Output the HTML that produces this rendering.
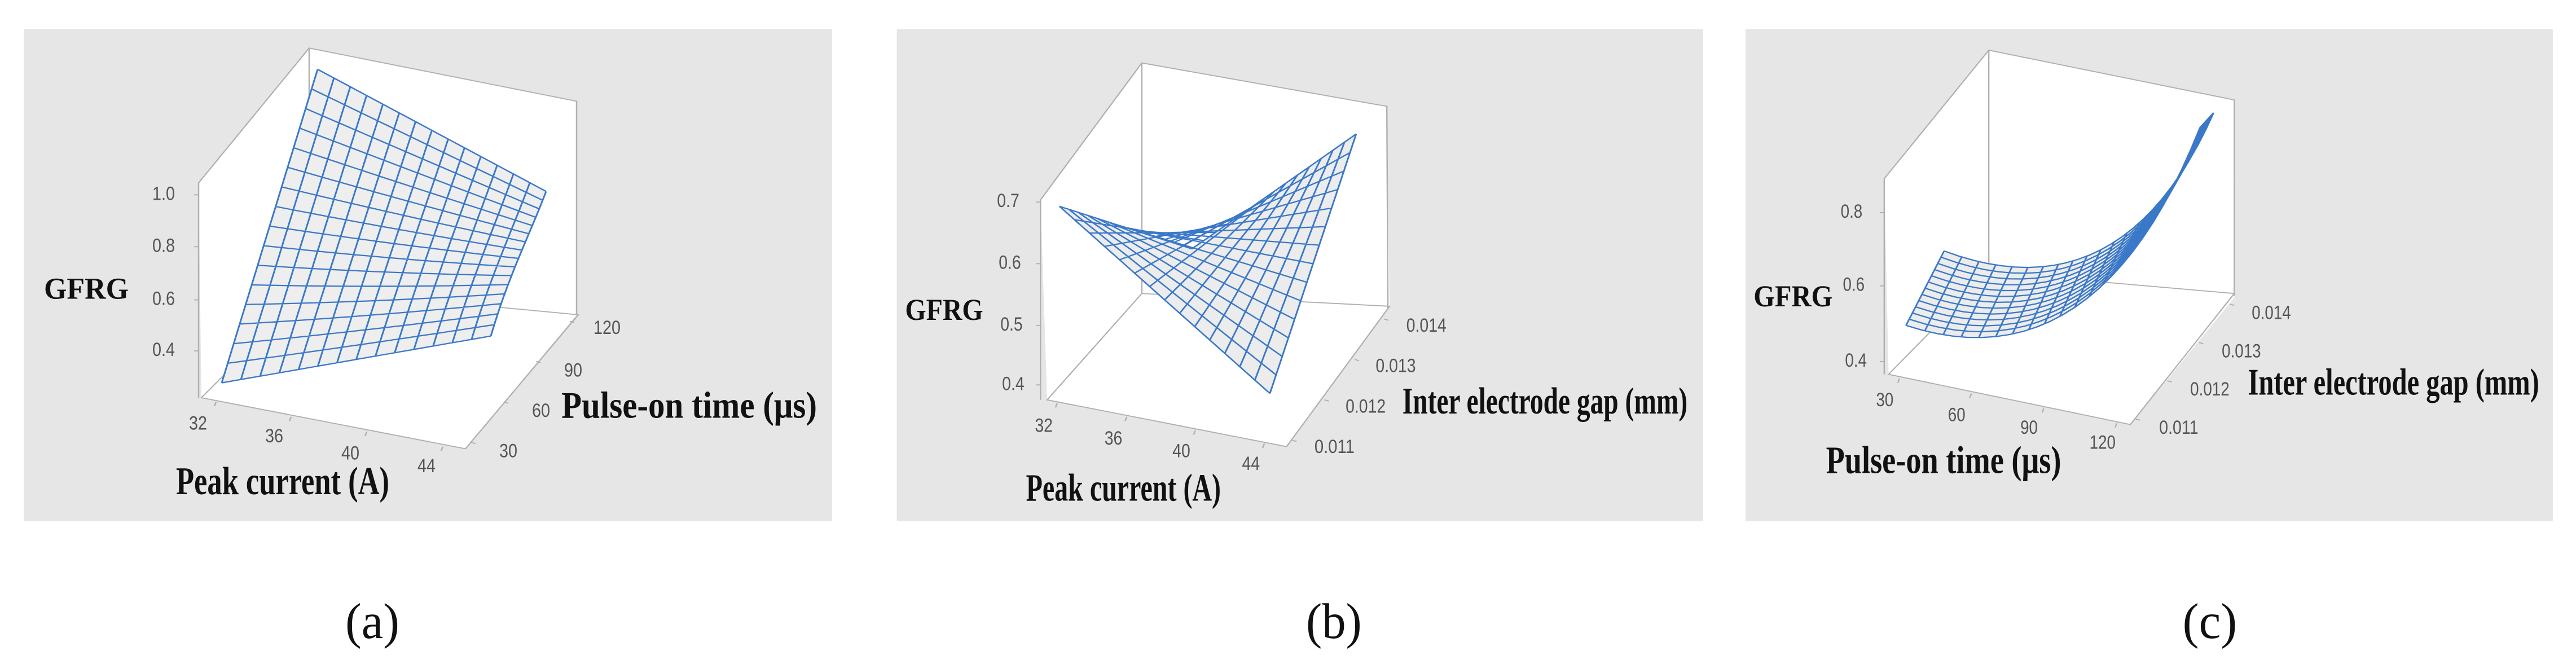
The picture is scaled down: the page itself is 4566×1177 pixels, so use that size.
<!DOCTYPE html>
<html><head><meta charset="utf-8">
<style>
html,body{margin:0;padding:0;background:#fff;}
svg{display:block;}
.tk{font-family:"Liberation Sans",sans-serif;font-size:46px;fill:#555;}
.lb{font-family:"Liberation Serif",serif;font-weight:bold;fill:#111;}
.cap{font-family:"Liberation Serif",serif;font-size:118px;fill:#111;}
.bx{stroke:#b0b0b0;stroke-width:2.5;fill:none;}
.ms{stroke:#3a78c8;stroke-width:3;fill:none;}
</style></head><body>
<svg id="s" width="4566" height="1177" viewBox="0 0 4566 1177" xmlns="http://www.w3.org/2000/svg">
<!-- Panel A -->
<g id="A" transform="translate(0,0) scale(1,0.754)">
<rect x="42" y="68" width="1433" height="1157" fill="#e6e6e6"/>
<polygon points="352,430 548,113 1022,238 1022,740 825,1055 357,935" fill="#fff"/>
<path class="bx" d="M352,430 L548,113 L1022,238 L1022,740 M548,113 L548,680 L1025,740 L825,1055 L357,935 L548,680 M352,430 L352,935"/>
<path class="bx" d="M352,458h-8M352,580h-8M352,705h-8M352,825h-8 M383,945l-3,10 M516,980l-3,10 M650,1015l-3,10 M785,1050l-3,10 M835,1040l8,3 M893,945l8,3 M950,850l8,3 M1010,755l8,3"/>
<g class="tk">
<text x="270" y="470">1.0</text><text x="270" y="592">0.8</text><text x="270" y="717">0.6</text><text x="270" y="837">0.4</text>
<text x="335" y="1010">32</text><text x="470" y="1040">36</text><text x="605" y="1080">40</text><text x="740" y="1110">44</text>
<text x="885" y="1075">30</text><text x="943" y="980">60</text><text x="1000" y="885">90</text><text x="1052" y="785">120</text>
</g>
<text class="lb" x="78" y="702" font-size="72" textLength="150" lengthAdjust="spacingAndGlyphs">GFRG</text>
<text class="lb" x="995" y="982" font-size="88" textLength="453" lengthAdjust="spacingAndGlyphs">Pulse-on time (μs)</text>
<text class="lb" x="312" y="1162" font-size="92" textLength="378" lengthAdjust="spacingAndGlyphs">Peak current (A)</text>
<text class="cap" x="612" y="1500" textLength="96" lengthAdjust="spacingAndGlyphs">(a)</text>
<g id="mA"></g>
</g>
<!-- Panel B -->
<g id="B" transform="translate(1560,0) scale(0.987,0.754)">
<rect x="30" y="68" width="1448" height="1157" fill="#e6e6e6"/>
<polygon points="288,470 470,148 910,250 915,720 730,1050 300,940" fill="#fff"/>
<path class="bx" d="M288,470 L470,148 L910,250 L912,725 M470,148 L470,690 L915,720 L730,1050 L300,940 L470,690 M288,470 L288,940"/>
<path class="bx" d="M288,475h-8M288,620h-8M288,765h-8M288,905h-8 M318,948l-3,10 M443,980l-3,10 M566,1012l-3,10 M690,1043l-3,10 M740,1035l8,3 M798,940l8,3 M852,845l8,3 M905,750l8,3"/>
<g class="tk">
<text x="210" y="487">0.7</text><text x="213" y="632">0.6</text><text x="216" y="777">0.5</text><text x="219" y="917">0.4</text>
<text x="278" y="1015">32</text><text x="403" y="1045">36</text><text x="525" y="1075">40</text><text x="650" y="1105">44</text>
<text x="780" y="1065">0.011</text><text x="836" y="970">0.012</text><text x="890" y="875">0.013</text><text x="945" y="780">0.014</text>
</g>
<text class="lb" x="45" y="752" font-size="72" textLength="140" lengthAdjust="spacingAndGlyphs">GFRG</text>
<text class="lb" x="938" y="972" font-size="88" textLength="512" lengthAdjust="spacingAndGlyphs">Inter electrode gap (mm)</text>
<text class="lb" x="262" y="1177" font-size="92" textLength="350" lengthAdjust="spacingAndGlyphs">Peak current (A)</text>
<text class="cap" x="765" y="1500" textLength="100" lengthAdjust="spacingAndGlyphs">(b)</text>
<g id="mB"></g>
</g>
<!-- Panel C -->
<g id="C" transform="translate(3060,0) scale(0.965,0.754)">
<rect x="35" y="68" width="1483" height="1157" fill="#e6e6e6"/>
<polygon points="290,420 482,118 933,235 933,700 742,998 298,880" fill="#fff"/>
<path class="bx" d="M290,420 L482,118 L933,235 L933,695 M482,118 L482,640 L933,690 L742,998 L298,880 L482,640 M290,420 L290,880"/>
<path class="bx" d="M290,500h-8M290,672h-8M290,850h-8 M318,890l-3,10 M450,925l-3,10 M583,960l-3,10 M717,995l-3,10 M752,985l8,3 M810,895l8,3 M868,805l8,3 M925,715l8,3"/>
<g class="tk">
<text x="210" y="512">0.8</text><text x="214" y="684">0.6</text><text x="218" y="862">0.4</text>
<text x="275" y="955">30</text><text x="407" y="990">60</text><text x="540" y="1020">90</text><text x="667" y="1055">120</text>
<text x="795" y="1020">0.011</text><text x="852" y="930">0.012</text><text x="910" y="840">0.013</text><text x="965" y="750">0.014</text>
</g>
<text class="lb" x="50" y="720" font-size="72" textLength="145" lengthAdjust="spacingAndGlyphs">GFRG</text>
<text class="lb" x="958" y="928" font-size="88" textLength="535" lengthAdjust="spacingAndGlyphs">Inter electrode gap (mm)</text>
<text class="lb" x="183" y="1112" font-size="92" textLength="432" lengthAdjust="spacingAndGlyphs">Pulse-on time (μs)</text>
<text class="cap" x="838" y="1500" textLength="100" lengthAdjust="spacingAndGlyphs">(c)</text>
<g id="mC"></g>
</g>
</svg>
<script>
var NS="http://www.w3.org/2000/svg";
var tks=document.querySelectorAll(".tk text");
for(var k=0;k<tks.length;k++){var s=tks[k].textContent,L=0;for(var c=0;c<s.length;c++)L+=(s[c]=='.')?8:16;tks[k].setAttribute("textLength",L);tks[k].setAttribute("lengthAdjust","spacingAndGlyphs");}
function lerp(a,b,t){return [a[0]+(b[0]-a[0])*t,a[1]+(b[1]-a[1])*t];}
function bil(P00,P10,P01,P11,u,v){return lerp(lerp(P00,P10,u),lerp(P01,P11,u),v);}
function mesh(id,f,nu,nv,fill){
  var g=document.getElementById(id),d="",S=24,i,j,p;
  var o=[];
  for(i=0;i<=S;i++)o.push(f(i/S,0));
  for(i=0;i<=S;i++)o.push(f(1,i/S));
  for(i=S;i>=0;i--)o.push(f(i/S,1));
  for(i=S;i>=0;i--)o.push(f(0,i/S));
  var pg=document.createElementNS(NS,"polygon");
  pg.setAttribute("points",o.map(function(q){return q[0].toFixed(1)+","+q[1].toFixed(1)}).join(" "));
  pg.setAttribute("fill",fill);g.appendChild(pg);
  for(i=0;i<=nu;i++){for(j=0;j<=S;j++){p=f(i/nu,j/S);d+=(j?"L":"M")+p[0].toFixed(1)+","+p[1].toFixed(1);}}
  for(i=0;i<=nv;i++){for(j=0;j<=S;j++){p=f(j/S,i/nv);d+=(j?"L":"M")+p[0].toFixed(1)+","+p[1].toFixed(1);}}
  var pa=document.createElementNS(NS,"path");pa.setAttribute("d",d);pa.setAttribute("class","ms");g.appendChild(pa);
}
mesh("mA",function(u,v){
  var p=bil([393,900],[870,790],[563,163],[968,450],u,v);
  p[1]+= -25*u*u*(1-v)*(1-v)*4*v;
  return p;},14,16,"#eeeeee");
mesh("mB",function(u,v){
  return bil([322,485],[700,925],[560,585],[855,315],u,v);},14,14,"#ececec");
mesh("mC",function(u,v){
  var p=bil([330,765],[870,300],[400,590],[895,265],u,v);
  var b=4*u*(1-u);
  p[1]+=b*(190-30*v);
  p[0]+=b*(40);
  return p;},20,12,"#ececec");
</script>
</body></html>
